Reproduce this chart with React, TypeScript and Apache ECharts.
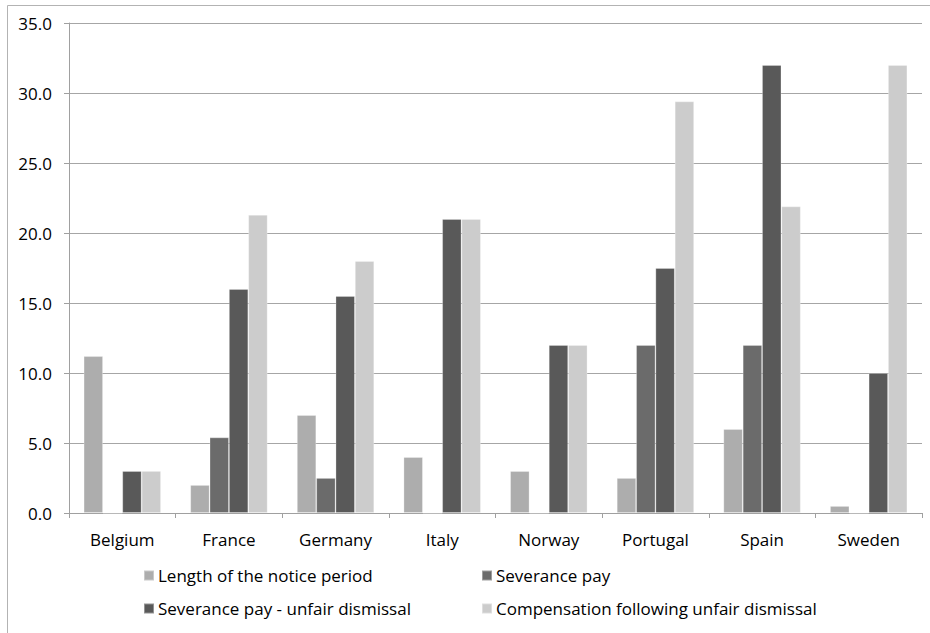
import React, { useEffect, useRef } from "react";
import * as echarts from "echarts";

const categories = ["Belgium", "France", "Germany", "Italy", "Norway", "Portugal", "Spain", "Sweden"];
const seriesNames = [
  "Length of the notice period",
  "Severance pay",
  "Severance pay - unfair dismissal",
  "Compensation following unfair dismissal",
];
const noticePeriod = [11.2, 2.0, 7.0, 4.0, 3.0, 2.5, 6.0, 0.5];
const severancePay = [0, 5.4, 2.5, 0, 0, 12.0, 12.0, 0];
const severanceUnfair = [3.0, 16.0, 15.5, 21.0, 12.0, 17.5, 32.0, 10.0];
const compensationUnfair = [3.0, 21.3, 18.0, 21.0, 12.0, 29.4, 21.9, 32.0];
const seriesColors = ["#adadad", "#6b6b6b", "#595959", "#cccccc"];
const yTicks = { min: 0, max: 35, interval: 5 };

const FONT = "'Open Sans', 'Noto Sans', sans-serif";

export default function App() {
  const ref = useRef<HTMLDivElement>(null);
  useEffect(() => {
    if (!ref.current) return;
    const chart = echarts.init(ref.current, undefined, { renderer: "svg" });
    const values = [noticePeriod, severancePay, severanceUnfair, compensationUnfair];
    const legendPos = [
      { left: 143, top: 567 },
      { left: 481, top: 567 },
      { left: 143, top: 600 },
      { left: 481, top: 600 },
    ];
    chart.setOption({
      animation: false,
      backgroundColor: "#ffffff",
      textStyle: { fontFamily: FONT },
      graphic: [
        {
          type: "rect",
          shape: { x: 7.5, y: 5.5, width: 940, height: 640 },
          style: { fill: "none", stroke: "#b3b3b3", lineWidth: 1 },
          silent: true,
        },
      ],
      legend: seriesNames.map((n, i) => ({
        data: [n],
        left: legendPos[i].left,
        top: legendPos[i].top,
        padding: 0,
        itemWidth: 10,
        itemHeight: 10,
        icon: "rect",
        textStyle: { fontFamily: FONT, fontSize: 17, color: "#000", padding: [0, 0, 0, -1] },
        selectedMode: false,
      })),
      grid: { left: 69, right: 8, top: 23, bottom: 120, containLabel: false },
      xAxis: {
        type: "category",
        data: categories,
        axisLine: { show: true, lineStyle: { color: "#a0a0a0", width: 1 } },
        axisTick: { show: true, length: 5, lineStyle: { color: "#a0a0a0" } },
        axisLabel: { fontFamily: FONT, fontSize: 17, color: "#000", margin: 18 },
      },
      yAxis: {
        type: "value",
        min: yTicks.min,
        max: yTicks.max,
        interval: yTicks.interval,
        axisLine: { show: true, lineStyle: { color: "#a0a0a0", width: 1 } },
        axisTick: { show: true, length: 5, lineStyle: { color: "#a0a0a0" } },
        axisLabel: {
          fontFamily: FONT,
          fontSize: 17,
          color: "#000",
          margin: 17,
          formatter: (v: number) => v.toFixed(1),
        },
        splitLine: { show: true, lineStyle: { color: "#a6a6a6", width: 1 } },
      },
      series: seriesNames.map((n, i) => ({
        name: n,
        type: "bar",
        data: values[i],
        barGap: "0%",
        barCategoryGap: "27.5%",
        itemStyle: {
          color: seriesColors[i],
          borderColor: "rgba(255,255,255,0.35)",
          borderWidth: 0.8,
        },
      })),
    });
    return () => chart.dispose();
  }, []);
  return (
    <div
      ref={ref}
      style={{ position: "absolute", left: 0, top: 0, width: 930, height: 633 }}
    />
  );
}
